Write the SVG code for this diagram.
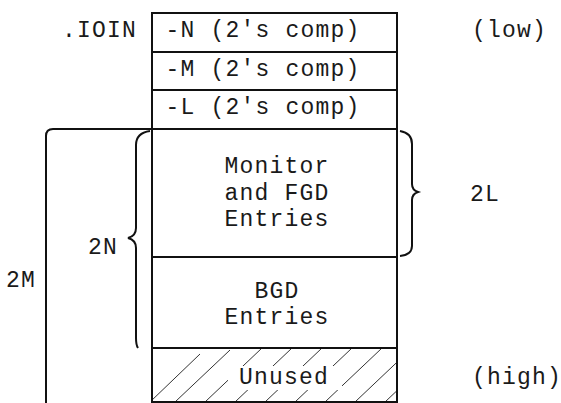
<svg xmlns="http://www.w3.org/2000/svg" width="561" height="403" viewBox="0 0 561 403">
<defs>
<style>
text{font-family:"Liberation Mono","Courier New",monospace;font-size:23px;letter-spacing:1.2px;fill:#1a1a1a;}
.c{text-anchor:middle;}
.box{fill:#fff;stroke:#111;stroke-width:2;}
.ln{fill:none;stroke:#111;stroke-width:2;}
.h{stroke:#333;stroke-width:1;fill:none;}
</style>
<clipPath id="uc"><rect x="153" y="349" width="243" height="52"/></clipPath>
</defs>
<g id="node-n"><rect class="box" x="152" y="13" width="245" height="39"/><text class="c" x="263" y="37">-N (2's comp)</text></g>
<g id="node-m"><rect class="box" x="152" y="52" width="245" height="38"/><text class="c" x="263" y="76">-M (2's comp)</text></g>
<g id="node-l"><rect class="box" x="152" y="90" width="245" height="39"/><text class="c" x="263" y="114">-L (2's comp)</text></g>
<g id="node-fgd"><rect class="box" x="152" y="129" width="245" height="128"/><text class="c" x="277" y="173">Monitor</text><text class="c" x="277" y="199.5">and FGD</text><text class="c" x="277" y="226">Entries</text></g>
<g id="node-bgd"><rect class="box" x="152" y="257" width="245" height="91"/><text class="c" x="277" y="298">BGD</text><text class="c" x="277" y="324">Entries</text></g>
<g id="node-unused"><rect class="box" x="152" y="348" width="245" height="54"/>
<g clip-path="url(#uc)" class="h">
<path d="M150,402 L200,354 M175,402 L230,350 M205,402 L262,348 M235,402 L292,348 M265,402 L322,348 M295,402 L352,348 M325,402 L382,348 M355,402 L412,348 M385,402 L440,350"/>
</g>
<rect x="228" y="366" width="114" height="24" fill="#fff"/>
<text class="c" x="284" y="384">Unused</text></g>
<g id="labels">
<text x="62" y="37">.IOIN</text>
<text x="472" y="37">(low)</text>
<text x="472" y="384">(high)</text>
<text x="470" y="201">2L</text>
<text x="88" y="254">2N</text>
<text x="6" y="287">2M</text>
</g>
<g id="connectors">
<path class="ln" d="M46,403 L46,136 Q46,129 53,129 L152,129"/>
<path class="ln" d="M150,131 Q136,133 136,145 L136,228 Q136,236 128,238 Q136,240 136,248 L136,338 Q136,345 138,348"/>
<path class="ln" d="M400,131 Q412,133 412,144 L412,184 Q412,190 418,192 Q412,194 412,200 L412,246 Q412,255 400,256"/>
</g>
</svg>
